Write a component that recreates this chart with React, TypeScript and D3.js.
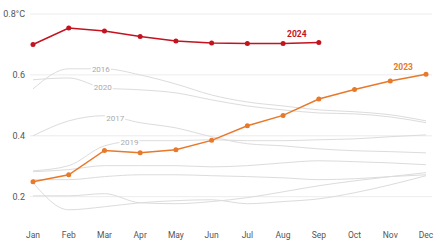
import { scaleLinear, scalePoint, line, curveMonotoneX, curveLinear } from "d3";

const months = ["Jan", "Feb", "Mar", "Apr", "May", "Jun", "Jul", "Aug", "Sep", "Oct", "Nov", "Dec"];
const yTicks = [0.2, 0.4, 0.6, 0.8];

const y2024 = [0.7, 0.754, 0.744, 0.726, 0.711, 0.705, 0.703, 0.703, 0.706];
const y2023 = [0.249, 0.272, 0.352, 0.344, 0.354, 0.385, 0.433, 0.467, 0.521, 0.552, 0.58, 0.602];

// earlier years, drawn in grey
const y2016 = [0.554, 0.62, 0.62, 0.6, 0.57, 0.534, 0.511, 0.498, 0.485, 0.479, 0.469, 0.449];
const y2020 = [0.584, 0.59, 0.557, 0.551, 0.541, 0.518, 0.498, 0.485, 0.475, 0.472, 0.462, 0.443];
const y2017 = [0.4, 0.449, 0.466, 0.443, 0.426, 0.397, 0.374, 0.367, 0.357, 0.351, 0.348, 0.344];
const y2019 = [0.285, 0.302, 0.367, 0.384, 0.384, 0.387, 0.384, 0.384, 0.387, 0.39, 0.397, 0.403];
const y2018 = [0.282, 0.289, 0.302, 0.302, 0.302, 0.298, 0.302, 0.311, 0.318, 0.315, 0.311, 0.305];
const y2015 = [0.256, 0.256, 0.266, 0.272, 0.272, 0.269, 0.266, 0.262, 0.256, 0.259, 0.266, 0.272];
const y2021 = [0.203, 0.203, 0.21, 0.18, 0.177, 0.184, 0.197, 0.216, 0.236, 0.252, 0.266, 0.279];
const y2022 = [0.246, 0.157, 0.167, 0.18, 0.187, 0.19, 0.177, 0.184, 0.193, 0.213, 0.239, 0.269];

const greyYears = [
  { year: "2015", values: y2015 },
  { year: "2016", values: y2016, at: 1.9 },
  { year: "2017", values: y2017, at: 2.3 },
  { year: "2018", values: y2018 },
  { year: "2019", values: y2019, at: 2.7 },
  { year: "2020", values: y2020, at: 1.95 },
  { year: "2021", values: y2021 },
  { year: "2022", values: y2022 },
];

const RED = "#c4121f";
const ORANGE = "#e8792a";

const App = () => {
  const width = 440;
  const height = 244;

  const x = scalePoint<string>().domain(months).range([33, 426]);
  const y = scaleLinear().domain([0.2, 0.8]).range([196.7, 14]);
  const step = x.step();

  const grey = line<number>()
    .x((_, i) => x(months[i]) as number)
    .y(d => y(d))
    .curve(curveMonotoneX);
  const straight = line<number>()
    .x((_, i) => x(months[i]) as number)
    .y(d => y(d))
    .curve(curveLinear);

  // value along a series at a fractional month index
  const valueAt = (vals: number[], t: number) => {
    const i = Math.floor(t);
    const f = t - i;
    return vals[i] * (1 - f) + vals[i + 1] * f;
  };

  const font = "Roboto, 'Liberation Sans', sans-serif";
  const last24 = y2024.length - 1;

  return (
    <svg
      width={width}
      height={height}
      style={{ position: "absolute", left: 0, top: 0, background: "#fff" }}
      fontFamily={font}
    >
      {yTicks.map(t => (
        <g key={t}>
          <line x1={30} x2={432} y1={y(t)} y2={y(t)} stroke="#ececec" strokeWidth={1} />
          <text x={25} y={y(t)} dy="0.35em" textAnchor="end" fontSize={9} fill="#555">
            {t === 0.8 ? "0.8°C" : t.toFixed(1)}
          </text>
        </g>
      ))}

      {months.map(m => (
        <text key={m} x={x(m)} y={238} textAnchor="middle" fontSize={8.5} fill="#555">
          {m}
        </text>
      ))}

      {greyYears.map(g => (
        <path key={g.year} d={grey(g.values) || ""} fill="none" stroke="#dcdcdc" strokeWidth={1} />
      ))}

      {greyYears
        .filter(g => g.at !== undefined)
        .map(g => {
          const lx = (x(months[0]) as number) + (g.at as number) * step;
          const ly = y(valueAt(g.values, g.at as number));
          return (
            <g key={g.year}>
              <rect x={lx - 10} y={ly - 4.5} width={20} height={9} fill="#fff" />
              <text x={lx} y={ly} dy="0.35em" textAnchor="middle" fontSize={8} fill="#aaa">
                {g.year}
              </text>
            </g>
          );
        })}

      <path d={straight(y2023) || ""} fill="none" stroke={ORANGE} strokeWidth={1.5} />
      {y2023.map((v, i) => (
        <circle key={i} cx={x(months[i])} cy={y(v)} r={2.5} fill={ORANGE} />
      ))}
      <text
        x={(x("Dec") as number) - 13}
        y={y(y2023[11]) - 4}
        textAnchor="end"
        fontSize={8.5}
        fontWeight="bold"
        fill={ORANGE}
      >
        2023
      </text>

      <path d={straight(y2024) || ""} fill="none" stroke={RED} strokeWidth={1.5} />
      {y2024.map((v, i) => (
        <circle key={i} cx={x(months[i])} cy={y(v)} r={2.5} fill={RED} />
      ))}
      <text
        x={(x(months[last24]) as number) - 22}
        y={y(y2024[last24]) - 6}
        textAnchor="middle"
        fontSize={8.5}
        fontWeight="bold"
        fill={RED}
      >
        2024
      </text>
    </svg>
  );
};

export default App;
